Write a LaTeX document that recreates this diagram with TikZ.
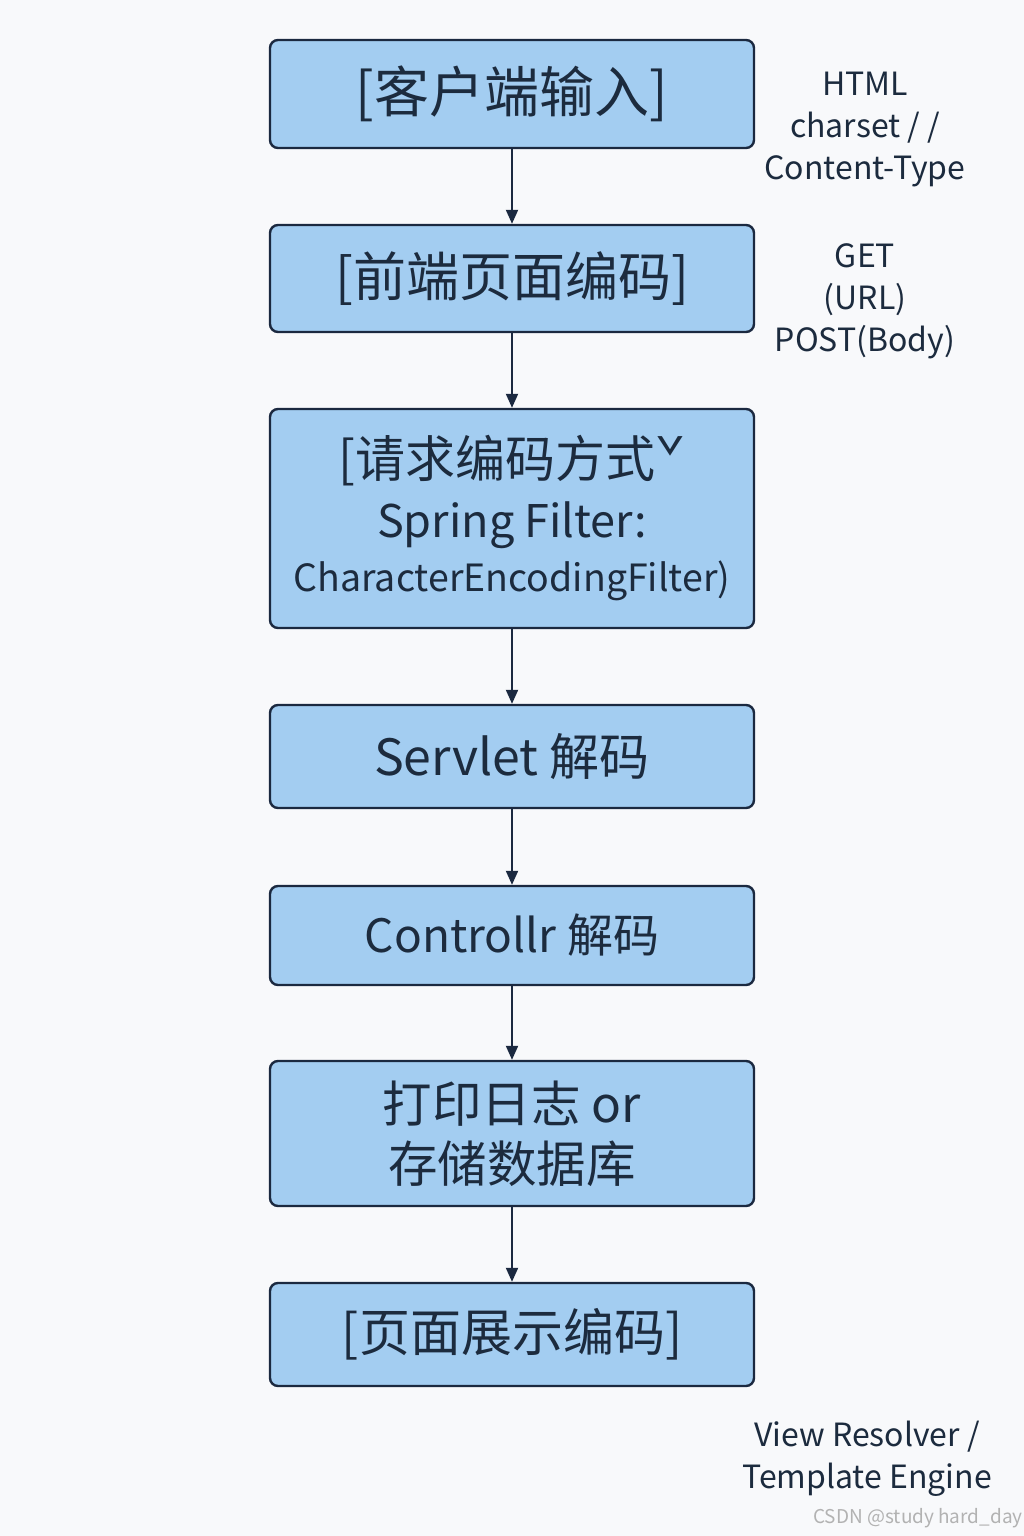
\documentclass[tikz,border=0pt]{standalone}
\usepackage{fontspec}
\setmainfont{Noto Sans CJK SC}
\usepackage{xcolor}
\usepackage{tikz}
\usetikzlibrary{arrows.meta,positioning}

\definecolor{boxfill}{HTML}{A3CDF1}
\definecolor{boxline}{HTML}{1B2940}
\definecolor{inkdark}{HTML}{1C2B3E}
\definecolor{pagebg}{HTML}{F8F9FB}

\begin{document}
\begin{tikzpicture}[
    x=1pt, y=-1pt,
    stage/.style={draw=boxline, fill=boxfill, line width=2.4pt, rounded corners=8pt,
        minimum width=484pt, inner sep=0pt, align=center, text=inkdark,
        font=\fontsize{50}{60}\selectfont},
    note/.style={align=center, text=inkdark, font=\fontsize{32}{42}\selectfont},
    flow/.style={-{Triangle[length=14pt,width=12pt]}, draw=boxline, line width=2pt}
]
    \fill[pagebg] (0,0) rectangle (1024,1536);
    \useasboundingbox (0,0) rectangle (1024,1536);

    % main column
    \node[stage, minimum height=108pt, font=\fontsize{55}{64}\selectfont] (input) at (512,94) {[客户端输入]};
    \node[stage, minimum height=107pt, font=\fontsize{53}{62}\selectfont] (page) at (512,278.5) {[前端页面编码]};
    \node[stage, minimum height=219pt] (request) at (512,518.5)
        {[请求编码方式ˇ\\[0pt]{\fontsize{45}{56}\selectfont Spring Filter:}\\[-6pt]
         {\fontsize{37.5}{48}\selectfont CharacterEncodingFilter)}};
    \node[stage, minimum height=103pt] (servlet) at (512,756.5) {Servlet 解码};
    \node[stage, minimum height=99pt, font=\fontsize{46}{56}\selectfont] (ctrl) at (512,935.5) {Controllr 解码};
    \node[stage, minimum height=145pt, font=\fontsize{49.5}{60}\selectfont] (store) at (512,1133.5) {打印日志 or\\存储数据库};
    \node[stage, minimum height=103pt, font=\fontsize{51}{60}\selectfont] (show) at (512,1334.5) {[页面展示编码]};

    \draw[flow] (input) -- (page);
    \draw[flow] (page) -- (request);
    \draw[flow] (request) -- (servlet);
    \draw[flow] (servlet) -- (ctrl);
    \draw[flow] (ctrl) -- (store);
    \draw[flow] (store) -- (show);

    % side notes
    \node[note] (charsetnote) at (865,130) {HTML\\charset / /\\Content-Type};
    \node[note] (methodnote) at (865,301) {GET\\(URL)\\POST(Body)};
    \node[note] (viewnote) at (867,1459) {View Resolver /\\Template Engine};

    \node[text=black!30, font=\fontsize{19}{22}\selectfont] (mark) at (918,1518) {CSDN @study hard\_day};
\end{tikzpicture}
\end{document}
